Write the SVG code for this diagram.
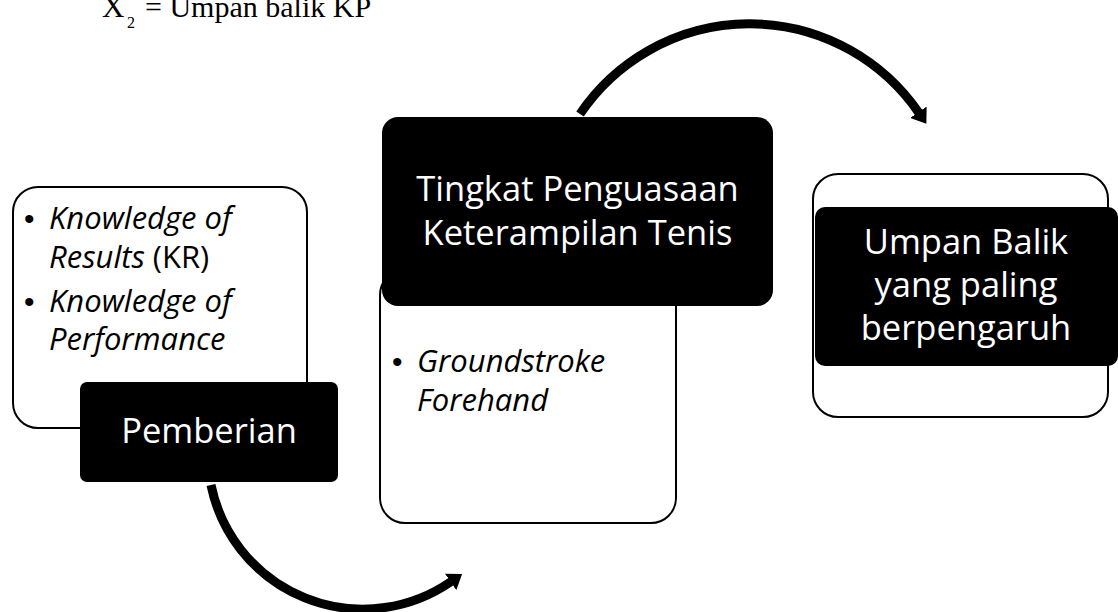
<svg xmlns="http://www.w3.org/2000/svg" width="1118" height="612" viewBox="0 0 1118 612">
<style>
.card{fill:#fff;stroke:#000;stroke-width:2}
.head{fill:#000;stroke:none}
.tt{font-family:"Open Sans","Liberation Sans",sans-serif;font-size:34.5px;fill:#fff;text-anchor:middle}
.bt{font-family:"Open Sans","Liberation Sans",sans-serif;font-size:31px;fill:#000}
.bu{font-family:"Liberation Sans",sans-serif;font-size:30px;fill:#000}
.it{font-style:italic}
.arc{fill:none;stroke:#000;stroke-width:9}
.eq{font-family:"Liberation Serif","Times New Roman",serif;fill:#000}
</style>
<defs>
<marker id="ah" markerUnits="userSpaceOnUse" markerWidth="14" markerHeight="20" viewBox="0 0 14 20" refX="0.5" refY="10" orient="auto">
<path d="M0,0 L14,10 L0,20 z" fill="#000"/>
</marker>
</defs>
<g id="caption">
<text class="eq" x="102" y="17" font-size="31">X</text>
<text class="eq" x="127" y="28" font-size="16">2</text>
<text class="eq" x="145" y="17" font-size="30">= Umpan balik KP</text>
</g>
<g id="node-pemberian">
<rect class="card" x="13" y="187" width="294" height="241" rx="25"/>
<text class="bu" x="24" y="229">•</text>
<text class="bt it" x="49" y="229">Knowledge of</text>
<text class="bt" x="49" y="268"><tspan class="it">Results</tspan> (KR)</text>
<text class="bu" x="24" y="312">•</text>
<text class="bt it" x="49" y="312">Knowledge of</text>
<text class="bt it" x="49" y="350">Performance</text>
<rect class="head" x="80" y="382" width="258" height="100" rx="7"/>
<text class="tt" x="209" y="443">Pemberian</text>
</g>
<g id="node-tingkat">
<rect class="card" x="380" y="270" width="296" height="253" rx="25"/>
<text class="bu" x="392" y="372">•</text>
<text class="bt it" x="417" y="372">Groundstroke</text>
<text class="bt it" x="417" y="411">Forehand</text>
<rect class="head" x="382" y="117" width="391" height="189" rx="16"/>
<text class="tt" x="577.5" y="201">Tingkat Penguasaan</text>
<text class="tt" x="577.5" y="245">Keterampilan Tenis</text>
</g>
<g id="node-umpan">
<rect class="card" x="813" y="174" width="295" height="243" rx="25"/>
<rect class="head" x="815" y="207" width="303" height="159" rx="10"/>
<text class="tt" x="966" y="254">Umpan Balik</text>
<text class="tt" x="966" y="297">yang paling</text>
<text class="tt" x="966" y="340">berpengaruh</text>
</g>
<g id="connectors">
<path class="arc" d="M211,485 A155,155 0 0 0 451,581.6" marker-end="url(#ah)"/>
<path class="arc" d="M580,114 A205,205 0 0 1 918.7,112.6" marker-end="url(#ah)"/>
</g>
</svg>
